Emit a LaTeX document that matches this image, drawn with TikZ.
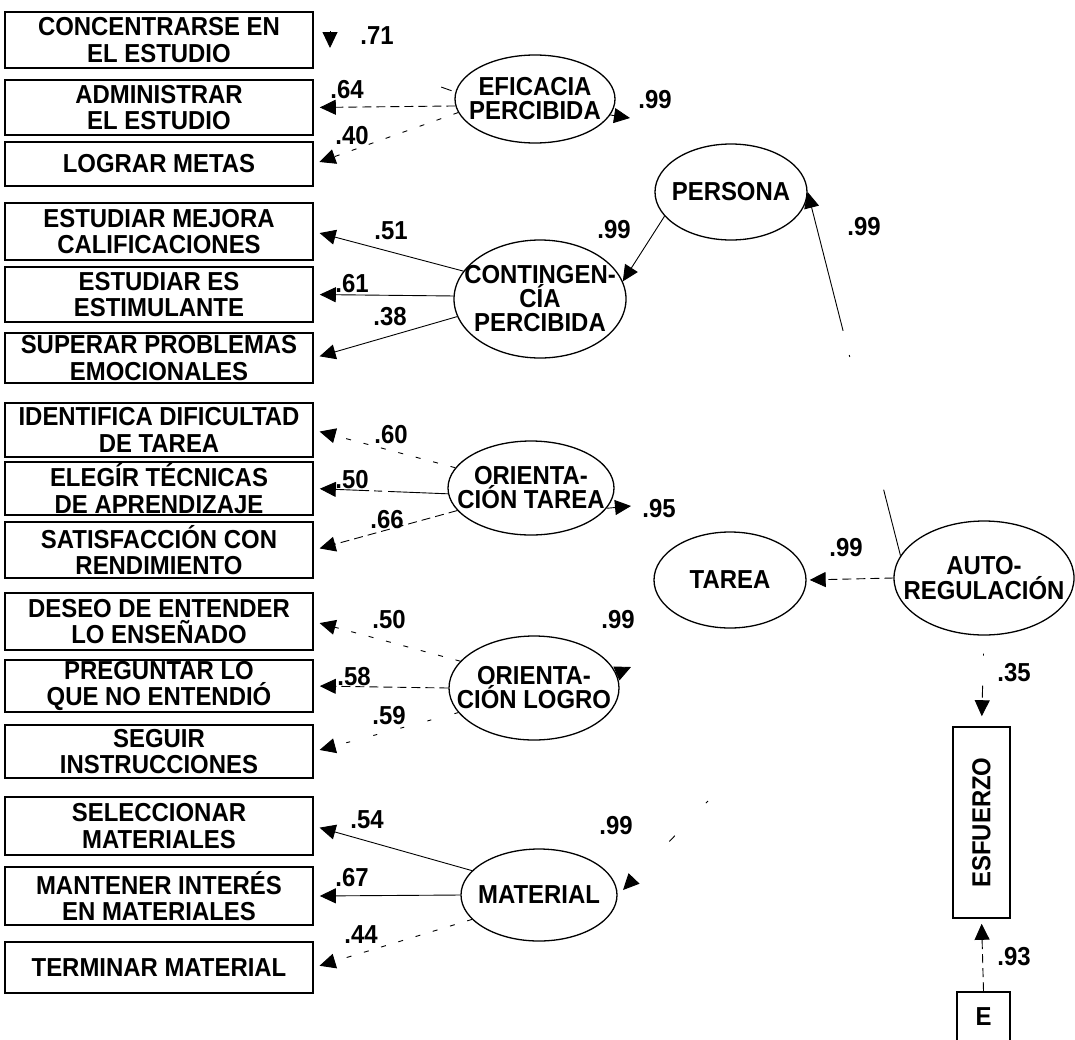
\documentclass[tikz,border=0pt]{standalone}
\usepackage{fontspec}
\setmainfont{Liberation Sans}[FakeStretch=0.92]
\usetikzlibrary{arrows.meta,shapes.geometric}

\begin{document}
\begin{tikzpicture}[x=1pt,y=-1pt,
  box/.style={draw, line width=1.6pt, rectangle, inner sep=0pt, minimum width=308pt,
    align=center, font=\fontsize{26}{26.5}\selectfont\bfseries},
  lat/.style={draw, ellipse, line width=1.3pt, inner sep=0pt},
  ltxt/.style={align=center, font=\fontsize{26}{24}\selectfont\bfseries, inner sep=0pt},
  num/.style={font=\fontsize{26}{26}\selectfont\bfseries, inner sep=0pt},
  tipend/.style={-{Triangle[length=16pt,width=15pt]}},
  link/.style={tipend, line width=0.9pt, shorten >=6pt},
  dlink/.style={link, dash pattern=on 9pt off 5pt},
  slink/.style={link, dash pattern=on 5pt off 13pt},
  stub/.style={tipend, line width=0.9pt},
]
\useasboundingbox (0,0) rectangle (1075,1039);

% observed indicators
\node[box, minimum height=56pt] (b1)  at (159,40)    {CONCENTRARSE EN\\EL ESTUDIO};
\node[box, minimum height=55pt] (b2)  at (159,107.5) {ADMINISTRAR\\EL ESTUDIO};
\node[box, minimum height=44pt] (b3)  at (159,164)   {LOGRAR METAS};
\node[box, minimum height=57pt] (b4)  at (159,231.5) {ESTUDIAR MEJORA\\CALIFICACIONES};
\node[box, minimum height=55pt] (b5)  at (159,294.5) {ESTUDIAR ES\\ESTIMULANTE};
\node[box, minimum height=50pt] (b6)  at (159,358)   {SUPERAR PROBLEMAS\\EMOCIONALES};
\node[box, minimum height=54pt] (b7)  at (159,430)   {IDENTIFICA DIFICULTAD\\DE TAREA};
\node[box, minimum height=53pt] (b8)  at (159,488.5) {ELEGÍR TÉCNICAS\\DE APRENDIZAJE};
\node[box, minimum height=56pt] (b9)  at (159,550)   {SATISFACCIÓN CON\\RENDIMIENTO};
\node[box, minimum height=57pt] (b10) at (159,621.5) {DESEO DE ENTENDER\\LO ENSEÑADO};
\node[box, minimum height=52pt] (b11) at (159,686)   {PREGUNTAR LO\\QUE NO ENTENDIÓ};
\node[box, minimum height=53pt] (b12) at (159,751.5) {SEGUIR\\INSTRUCCIONES};
\node[box, minimum height=58pt] (b13) at (159,826)   {SELECCIONAR\\MATERIALES};
\node[box, minimum height=58pt] (b14) at (159,896)   {MANTENER INTERÉS\\EN MATERIALES};
\node[box, minimum height=51pt] (b15) at (159,967.5) {TERMINAR MATERIAL};

% latent factors
\node[lat, minimum width=160pt, minimum height=88pt,
  label={[ltxt]center:{EFICACIA\\PERCIBIDA}}] (efi) at (535,99) {};
\node[lat, minimum width=152pt, minimum height=96pt,
  label={[ltxt]center:{PERSONA}}] (per) at (731,192) {};
\node[lat, minimum width=172pt, minimum height=118pt,
  label={[ltxt]center:{CONTINGEN-\\CÍA\\PERCIBIDA}}] (con) at (540,299) {};
\node[lat, minimum width=166pt, minimum height=94pt,
  label={[ltxt]center:{ORIENTA-\\CIÓN TAREA}}] (ot) at (531,488) {};
\node[lat, minimum width=152pt, minimum height=96pt,
  label={[ltxt]center:{TAREA}}] (tar) at (730,580) {};
\node[lat, minimum width=180pt, minimum height=114pt,
  label={[ltxt, font=\fontsize{26}{25}\selectfont\bfseries]center:{AUTO-\\REGULACIÓN}}] (aut) at (984,578) {};
\node[lat, minimum width=170pt, minimum height=104pt,
  label={[ltxt]center:{ORIENTA-\\CIÓN LOGRO}}] (ol) at (534,688) {};
\node[lat, minimum width=156pt, minimum height=92pt,
  label={[ltxt]center:{MATERIAL}}] (mat) at (539,895) {};

% outcome and its error term
\node[box, minimum width=57pt, minimum height=191pt,
  label={[num, rotate=90]center:ESFUERZO}] (esf) at (981.5,822.5) {};
\node[box, minimum width=53pt, minimum height=50pt] (eb) at (983.5,1017) {E};

% loadings of the first-order factors
\coordinate (t71) at (330,48);
\coordinate (s71) at (330,31);
\draw[line width=0.9pt, dash pattern=on 0pt off 4pt on 11pt off 500pt] (efi.175) -- (t71);
\draw[stub] (s71) -- (t71);
\draw[dlink] (efi.185) -- (b2.east);
\draw[slink] (efi.190) -- (b3.east);

\draw[link] (con.160) -- (b4.east);
\draw[link] (con.178) -- (b5.east);
\draw[link] (con.192) -- (b6.east);

\draw[slink] (ot.165) -- (b7.east);
\draw[link, dash pattern=on 60pt off 6pt on 8pt off 5pt on 60pt] (ot.184) -- (b8.east);
\draw[dlink] (ot.197) -- (b9.east);

\draw[slink] (ol.160) -- (b10.east);
\draw[dlink] (ol.west) -- (b11.east);
\draw[link, dash pattern=on 4pt off 24pt] (ol.198) -- (b12.east);

\draw[link] (mat.160) -- (b13.east);
\draw[link] (mat.west) -- (b14.east);
\draw[slink] (mat.200) -- (b15.east);

% second-order paths
\draw[link, shorten >=0pt] (per.200) -- (con.12);
\draw[link, shorten >=0pt, dash pattern=on 68pt off 137pt on 2pt off 25pt on 400pt] (aut.165) -- (per.east);
\draw[dlink, shorten >=3pt] (aut.west) -- (tar.east);
\draw[link, shorten >=10pt, dash pattern=on 0pt off 18pt on 2pt off 30pt on 12pt off 100pt] (aut.south) -- (esf.north);
\draw[dlink, shorten >=5pt] (eb.north) -- (esf.south);

% arrow tips whose lines are lost
\coordinate (tEfi) at (630,118);
\draw[stub] (efi.-12) -- (tEfi);
\coordinate (tOt) at (631,506);
\draw[stub] (ot.-15) -- (tOt);
\coordinate (tOl) at (631,667);
\draw[stub] (ol.10) -- (tOl);
\coordinate (mFree) at (708,801);
\coordinate (tMat) at (623,890);
\draw[stub, dash pattern=on 3pt off 45pt on 8pt off 300pt] (mFree) -- (tMat);

% coefficients
\node[num] (n71)  at (377,36)  {.71};
\node[num] (n64)  at (347,90)  {.64};
\node[num] (n40)  at (352,136) {.40};
\node[num] (n99a) at (655,100) {.99};
\node[num] (n51)  at (391,231) {.51};
\node[num] (n61)  at (352,284) {.61};
\node[num] (n38)  at (390,317) {.38};
\node[num] (n99b) at (614,230) {.99};
\node[num] (n99c) at (864,227) {.99};
\node[num] (n60)  at (391,435) {.60};
\node[num] (n50a) at (352,480) {.50};
\node[num] (n66)  at (387,520) {.66};
\node[num] (n95)  at (659,509) {.95};
\node[num] (n99d) at (846,548) {.99};
\node[num] (n50b) at (389,620) {.50};
\node[num] (n58)  at (354,677) {.58};
\node[num] (n59)  at (389,716) {.59};
\node[num] (n99e) at (618,620) {.99};
\node[num] (n54)  at (367,820) {.54};
\node[num] (n67)  at (352,878) {.67};
\node[num] (n44)  at (361,935) {.44};
\node[num] (n99f) at (616,826) {.99};
\node[num] (n35)  at (1014,673) {.35};
\node[num] (n93)  at (1014,957) {.93};
\end{tikzpicture}
\end{document}
